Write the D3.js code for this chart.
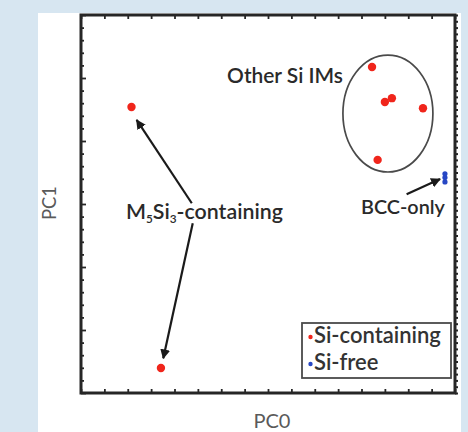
<!DOCTYPE html>
<html>
<head>
<meta charset="utf-8">
<script src="https://cdn.jsdelivr.net/npm/d3@7"></script>
<style>
  html, body { margin: 0; padding: 0; background: #d7e6f1; }
  svg { display: block; }
  text { font-family: Lato, "Open Sans", sans-serif; }
</style>
</head>
<body>
<svg id="chart" width="468" height="432"></svg>
<script>
// ---- data (PC units, arbitrary) ----
const siX = [2.16, 3.42, 12.45, 13.0, 13.3, 14.63, 12.69];
const siY = [22.7, 1.98, 25.87, 23.1, 23.4, 22.6, 18.5];
const freeX = [15.57, 15.57, 15.57];
const freeY = [17.4, 17.1, 16.75];
const seriesNames = ["Si-containing", "Si-free"];
const seriesColors = ["#f0251b", "#2747c4"];

// annotations (in data units)
const arrowFrom = [[4.74, 15.06], [4.78, 13.47], [13.93, 15.77]];
const arrowTo   = [[2.38, 21.67], [3.52, 2.75], [15.36, 16.98]];
const ellipseC = [13.13, 22.18];
const ellipseR = [1.925, 4.64];

const W = 468, H = 432;
const frame = {left: 81, top: 15, right: 455, bottom: 393};

const svg = d3.select("#chart");
// white panel
svg.append("rect").attr("x", 38).attr("y", 13).attr("width", 423).attr("height", H - 13).attr("fill", "#ffffff");

const x = d3.scaleLinear().domain([0, 16]).range([frame.left, frame.right]);
const y = d3.scaleLinear().domain([0, 30]).range([frame.bottom, frame.top]);

const axisColor = "#262626";
function styleAxis(g) {
  g.select(".domain").remove();
  g.selectAll(".tick line").attr("stroke", axisColor).attr("stroke-width", 1.8);
  g.selectAll(".tick text").remove();
}
const xt = d3.range(0, 17);
svg.append("g").attr("transform", `translate(0,${frame.bottom})`)
  .call(d3.axisTop(x).tickValues(xt).tickSize(4)).call(styleAxis);
svg.append("g").attr("transform", `translate(0,${frame.top})`)
  .call(d3.axisBottom(x).tickValues(xt).tickSize(4)).call(styleAxis);
const yt = d3.range(0, 31);
svg.append("g").attr("transform", `translate(${frame.left},0)`)
  .call(d3.axisRight(y).tickValues(yt).tickSize(3)).call(styleAxis)
  .selectAll(".tick line").attr("x2", d => d % 5 === 0 ? 5 : 3);
const yt2 = d3.range(0, 30.01, 0.5);
svg.append("g").attr("transform", `translate(${frame.right},0)`)
  .call(d3.axisLeft(y).tickValues(yt2).tickSize(3)).call(styleAxis)
  .selectAll(".tick line").attr("x1", 0).attr("x2", 3).attr("stroke-width", 2);

// frame
svg.append("rect").attr("x", frame.left).attr("y", frame.top)
  .attr("width", frame.right - frame.left).attr("height", frame.bottom - frame.top)
  .attr("fill", "none").attr("stroke", axisColor).attr("stroke-width", 3);

// fit helper
function fit(sel, target) {
  sel.attr("font-size", 20);
  const w = sel.node().getComputedTextLength();
  sel.attr("font-size", 20 * target / w);
  return sel;
}

// axis labels
const pc0 = svg.append("text").attr("x", 272).attr("y", 428).attr("text-anchor", "middle")
  .attr("fill", "#5a5a5a").text("PC0");
fit(pc0, 37);
const pc1 = svg.append("text").attr("transform", "translate(56,203) rotate(-90)")
  .attr("text-anchor", "middle").attr("fill", "#5a5a5a").text("PC1");
fit(pc1, 34);

// ellipse
svg.append("ellipse").attr("cx", x(ellipseC[0])).attr("cy", y(ellipseC[1]))
  .attr("rx", x(ellipseC[0] + ellipseR[0]) - x(ellipseC[0]))
  .attr("ry", y(ellipseC[1]) - y(ellipseC[1] + ellipseR[1]))
  .attr("fill", "none").attr("stroke", "#4a4a4a").attr("stroke-width", 1.7);

// arrows
const defs = svg.append("defs");
defs.append("marker").attr("id", "ah").attr("viewBox", "0 0 10 10").attr("refX", 9).attr("refY", 5)
  .attr("markerWidth", 4.5).attr("markerHeight", 4.5).attr("orient", "auto")
  .attr("markerUnits", "strokeWidth")
  .append("path").attr("d", "M0,0 L10,5 L0,10 z").attr("fill", "#1a1a1a");
arrowFrom.forEach((f, i) => {
  const t = arrowTo[i];
  svg.append("line").attr("x1", x(f[0])).attr("y1", y(f[1]))
    .attr("x2", x(t[0])).attr("y2", y(t[1]))
    .attr("stroke", "#1a1a1a").attr("stroke-width", 2.2).attr("marker-end", "url(#ah)");
});

// points
const siPts = siX.map((v, i) => [v, siY[i]]);
const freePts = freeX.map((v, i) => [v, freeY[i]]);
svg.append("g").selectAll("circle").data(siPts).join("circle")
  .attr("cx", d => x(d[0])).attr("cy", d => y(d[1])).attr("r", 4.2).attr("fill", seriesColors[0]);
svg.append("g").selectAll("circle").data(freePts).join("circle")
  .attr("cx", d => x(d[0])).attr("cy", d => y(d[1])).attr("r", 2.6).attr("fill", seriesColors[1]);

// annotation text
const txtColor = "#2a2a2a";
const t1 = svg.append("text").attr("x", 343).attr("y", 78).attr("text-anchor", "end")
  .attr("dominant-baseline", "middle").attr("font-weight", 600).attr("fill", txtColor).text("Other Si IMs");
fit(t1, 116);

const t2 = svg.append("text").attr("x", 126).attr("y", 219).attr("font-weight", 600).attr("fill", txtColor);
t2.append("tspan").text("M");
t2.append("tspan").attr("baseline-shift", "-35%").attr("font-size", "55%").text("5");
t2.append("tspan").text("Si");
t2.append("tspan").attr("baseline-shift", "-35%").attr("font-size", "55%").text("3");
t2.append("tspan").text("-containing");
fit(t2, 157);

const t3 = svg.append("text").attr("x", 361).attr("y", 209).attr("dominant-baseline", "middle")
  .attr("font-weight", 600).attr("fill", txtColor).text("BCC-only");
fit(t3, 84);

// legend
const lg = svg.append("g");
lg.append("rect").attr("x", 302).attr("y", 323).attr("width", 149).attr("height", 55)
  .attr("fill", "#ffffff").attr("stroke", "#4a4a4a").attr("stroke-width", 1.8);
const legendY = [337, 364];
seriesNames.forEach((name, i) => {
  lg.append("circle").attr("cx", 310.5).attr("cy", legendY[i]).attr("r", 2.2).attr("fill", seriesColors[i]);
  const tt = lg.append("text").attr("x", 314).attr("y", legendY[i]).attr("dominant-baseline", "middle")
    .attr("font-weight", 600).attr("fill", "#333333").text(name);
  if (i === 0) fit(tt, 127);
  else tt.attr("font-size", lg.select("text").attr("font-size"));
});
</script>
</body>
</html>
